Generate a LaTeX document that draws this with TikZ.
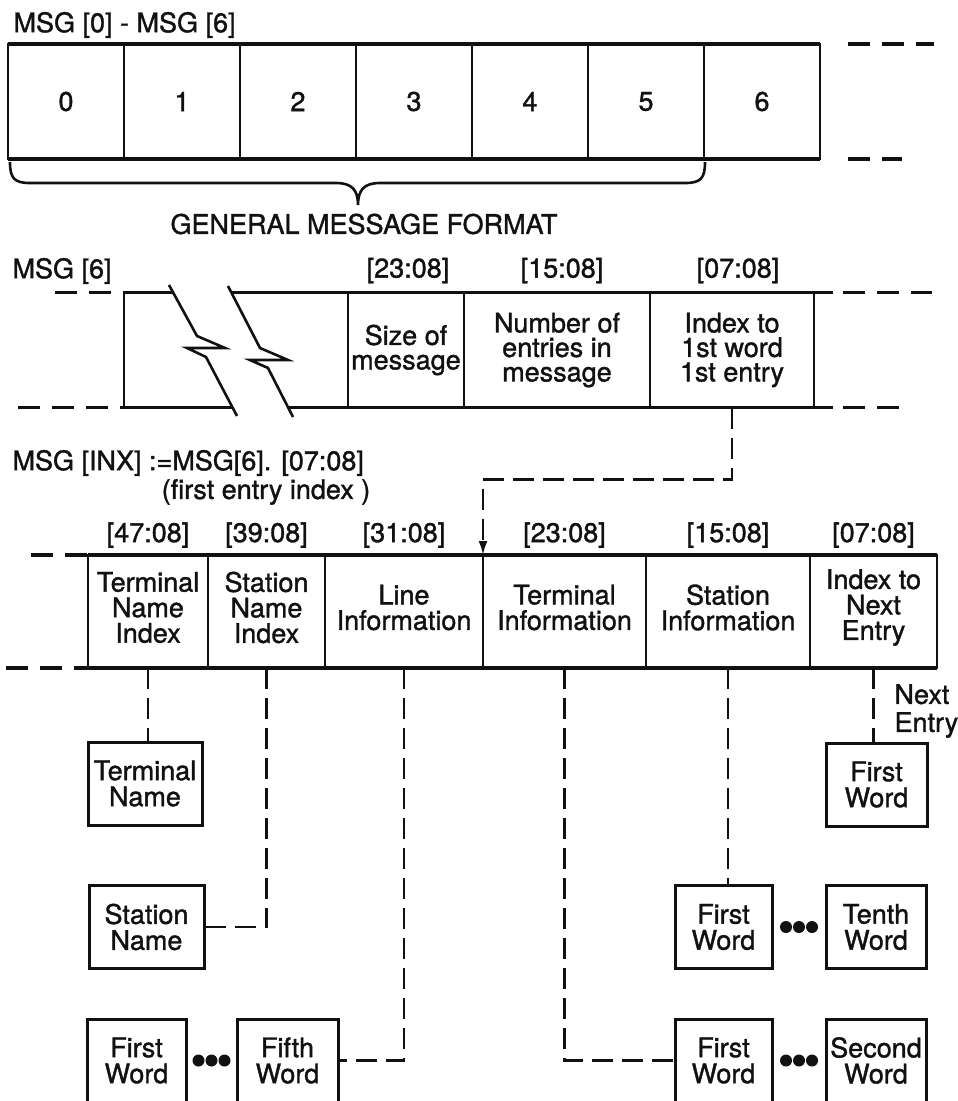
\documentclass[tikz,border=0pt]{standalone}
\usepackage{fontspec}
\setmainfont{TeX Gyre Heros}[FakeBold=1.3]
\usepackage{xcolor}
\usetikzlibrary{positioning,calc,arrows.meta}
\definecolor{DInk}{HTML}{111111}

\begin{document}
\begin{tikzpicture}[x=1pt, y=-1pt,
  every node/.style={text=DInk, font=\fontsize{27}{26}\selectfont},
  cell/.style={draw=DInk, line width=2pt, inner sep=0pt, outer sep=0pt, align=center},
  toprow/.style={cell, minimum width=116pt, minimum height=115pt},
  midrow/.style={cell, minimum height=115pt, font=\fontsize{27}{24.5}\selectfont},
  entryrow/.style={cell, minimum height=113pt},
  entrytext/.style={inner sep=0pt, align=center, yshift=4pt, font=\fontsize{27}{25.5}\selectfont},
  bits/.style={inner sep=0pt},
  wordbox/.style={draw=DInk, line width=3pt, inner sep=0pt, outer sep=0pt, align=center, minimum height=83pt},
  rowline/.style={DInk, line width=3.2pt},
  rowdash/.style={DInk, line width=3.2pt, dash pattern=on 22pt off 12pt},
  link/.style={DInk, line width=2.2pt, dash pattern=on 21pt off 9pt},
  breakline/.style={DInk, line width=2.6pt, line join=miter}]
\useasboundingbox (0,0) rectangle (958,1101);

% general format
\node[anchor=west] (allmsg) at (10,25) {MSG [0] - MSG [6]};
\foreach \i in {0,...,6}
  \node[toprow] (w\i) at (66+116*\i,101.5) {\i};
\draw[rowline] (w0.north west) -- (w6.north east);
\draw[rowline] (w0.south west) -- (w6.south east);
\coordinate (wtopend) at (934,44);
\coordinate (wbotend) at (902,159);
\draw[rowdash] ([xshift=28pt]w6.north east) -- (wtopend);
\draw[rowdash] ([xshift=28pt]w6.south east) -- (wbotend);
\draw[DInk, line width=2.6pt] (10,162) .. controls (10,178) and (14,183) .. (30,183) -- (336,183)
  .. controls (352,183) and (358,190) .. (358,205) .. controls (358,190) and (364,183) .. (380,183)
  -- (685,183) .. controls (701,183) and (705,178) .. (705,162);
\node (gmf) at (364,224) {GENERAL MESSAGE FORMAT};

% MSG[6]
\node[anchor=west] (msgsix) at (9,271) {MSG [6]};
\node[midrow, draw=none, minimum width=224pt] (skip) at (236,350) {};
\node[midrow, minimum width=116pt, right=0pt of skip] (size) {Size of\\message};
\node[midrow, minimum width=186pt, right=0pt of size] (count) {Number of\\entries in\\message};
\node[midrow, minimum width=164pt, right=0pt of count] (first) {Index to\\1st word\\1st entry};
\draw[DInk, line width=2pt] (skip.north west) -- (skip.south west);
\draw[rowline] (skip.north west) -- (173,292.5);
\draw[rowline] (232,292.5) -- ([xshift=19pt]first.north east);
\draw[rowline] (skip.south west) -- (232,407.5);
\draw[rowline] (288,407.5) -- ([xshift=19pt]first.south east);
\coordinate (sixTL) at (55,292.5);
\coordinate (sixBL) at (18,407.5);
\coordinate (sixTR) at (932,292.5);
\coordinate (sixBR) at (900,407.5);
\draw[rowdash] (sixTL) -- (skip.north west);
\draw[rowdash] (sixBL) -- (skip.south west);
\draw[rowdash] ([xshift=29pt]first.north east) -- (sixTR);
\draw[rowdash] ([xshift=29pt]first.south east) -- (sixBR);
\draw[breakline] (169,285) -- (197,336) -- (225,348) -- (187,348) -- (206,357) -- (237,416);
\draw[breakline] (228,286) -- (260,348) -- (288,360) -- (250,360) -- (268,368) -- (293,417);
\node[bits, above=9pt of size, xshift=2pt] (sizebits) {[23:08]};
\node[bits, above=9pt of count, xshift=5pt] (countbits) {[15:08]};
\node[bits, above=9pt of first, xshift=6pt] (firstbits) {[07:08]};

% one entry
\node[anchor=west] (inx) at (9,463) {MSG [INX] :=MSG[6]. [07:08]};
\node (inxnote) at (266,492) {(first entry index )};
\node[entryrow, minimum width=120pt] (tni) at (148,611.5) {};
\node[entryrow, minimum width=117pt, right=0pt of tni] (sni) {};
\node[entryrow, minimum width=158pt, right=0pt of sni] (lin) {};
\node[entryrow, minimum width=163pt, right=0pt of lin] (tin) {};
\node[entryrow, minimum width=164pt, right=0pt of tin] (sin) {};
\node[entryrow, minimum width=127pt, right=0pt of sin] (nxt) {};
\node[entrytext] (tnitext) at (tni) {Terminal\\Name\\Index};
\node[entrytext] (snitext) at (sni) {Station\\Name\\Index};
\node[entrytext] (lintext) at (lin) {Line\\Information};
\node[entrytext] (tintext) at (tin) {Terminal\\Information};
\node[entrytext] (sintext) at (sin) {Station\\Information};
\node[entrytext] (nxttext) at (nxt) {Index to\\Next\\Entry};
\draw[rowline] (tni.north west) -- (nxt.north east);
\draw[rowline] (tni.south west) -- (nxt.south east);
\coordinate (entTL) at (31,555);
\coordinate (entBL) at (6,668);
\draw[rowdash] (entTL) -- (tni.north west);
\draw[rowdash] (entBL) -- (tni.south west);
\node[bits, above=7pt of tni] (tnibits) {[47:08]};
\node[bits, above=7pt of sni] (snibits) {[39:08]};
\node[bits, above=7pt of lin] (linbits) {[31:08]};
\node[bits, above=7pt of tin] (tinbits) {[23:08]};
\node[bits, above=7pt of sin] (sinbits) {[15:08]};
\node[bits, above=7pt of nxt] (nxtbits) {[07:08]};
\draw[link, -{Latex[length=14pt, width=9pt]}] (first.south) -- ++(0,72) -| (lin.north east);

% pointed-to words
\node[wordbox, minimum width=114pt] (tname) at (145,783.5) {Terminal\\Name};
\node[wordbox, minimum width=115pt] (sname) at (146.5,927) {Station\\Name};
\node[wordbox, minimum width=99pt] (lfirst) at (136.5,1060.5) {First\\Word};
\node[wordbox, minimum width=101pt] (lfifth) at (287.5,1060.5) {Fifth\\Word};
\node[wordbox, minimum width=97pt] (sfirst) at (723.5,927) {First\\Word};
\node[wordbox, minimum width=100pt] (stenth) at (876,927) {Tenth\\Word};
\node[wordbox, minimum width=97pt] (tfirst) at (723.5,1060.5) {First\\Word};
\node[wordbox, minimum width=100pt] (tsecond) at (876,1060.5) {Second\\Word};
\node[wordbox, minimum width=101pt] (nfirst) at (876.5,784.5) {First\\Word};
\draw[link] (tni.south) -- (tni.south |- tname.north);
\draw[link] (sni.south) |- (sname.east);
\draw[link] (lin.south) |- (lfifth.east);
\draw[link] (tin.south) |- (tfirst.west);
\draw[link] (sin.south) -- (sin.south |- sfirst.north);
\draw[link] (nxt.south) -- (nxt.south |- nfirst.north);
\node[anchor=west, align=left, font=\fontsize{27}{28}\selectfont] (nextnote) at (891,711) {Next\\Entry};
\foreach \a/\b in {lfirst/lfifth, sfirst/stenth, tfirst/tsecond}
  \foreach \d in {-13,0,13}
    \fill[DInk] ($(\a.east)!0.5!(\b.west)+(\d,0)$) circle (6pt);
\end{tikzpicture}
\end{document}
